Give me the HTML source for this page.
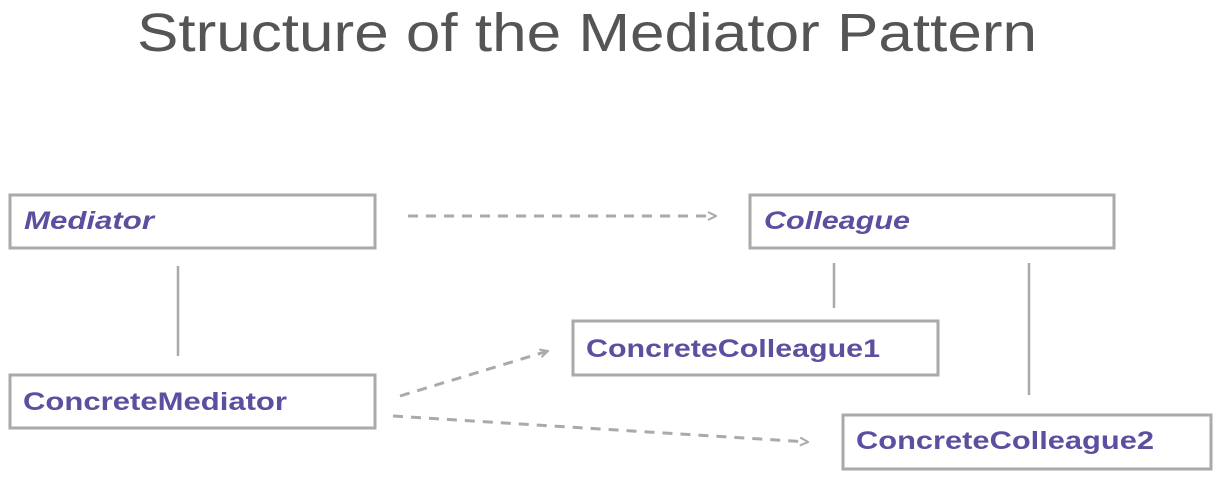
<!DOCTYPE html>
<html><head><style>
html,body{margin:0;padding:0;background:#fff;}
svg{display:block;}
</style></head><body>
<svg width="1222" height="481" viewBox="0 0 1222 481" xmlns="http://www.w3.org/2000/svg">
<defs>
<marker id="ah" markerWidth="10" markerHeight="10" refX="9" refY="5" orient="auto" markerUnits="userSpaceOnUse">
<path d="M1,1 L9,5 L1,9" fill="none" stroke="#aaa" stroke-width="2"/>
</marker>
</defs>
<text x="137" y="51" font-family="Liberation Sans, sans-serif" font-size="54" fill="#555" font-weight="300" textLength="900" lengthAdjust="spacingAndGlyphs">Structure of the Mediator Pattern</text>
<g fill="#fff" stroke="#aaa" stroke-width="3">
<rect x="10" y="195" width="365" height="53"/>
<rect x="10" y="375" width="365" height="53"/>
<rect x="750" y="195" width="364" height="53"/>
<rect x="573" y="321" width="365" height="54"/>
<rect x="843" y="415" width="368" height="54"/>
</g>
<g stroke="#aaa" stroke-width="2.5">
<line x1="178" y1="266" x2="178" y2="356"/>
<line x1="834" y1="263" x2="834" y2="308"/>
<line x1="1029" y1="263" x2="1029" y2="395"/>
</g>
<g stroke="#aaa" stroke-width="3" stroke-dasharray="10,8" fill="none">
<line x1="408" y1="216" x2="716" y2="216" marker-end="url(#ah)"/>
<line x1="400" y1="396" x2="548" y2="351" marker-end="url(#ah)"/>
<line x1="393" y1="416" x2="808" y2="442" marker-end="url(#ah)"/>
</g>
<g font-family="Liberation Sans, sans-serif" font-size="25" font-weight="bold" fill="#5b4fa0">
<text x="24" y="229" font-style="italic" textLength="130" lengthAdjust="spacingAndGlyphs">Mediator</text>
<text x="23" y="410" textLength="264" lengthAdjust="spacingAndGlyphs">ConcreteMediator</text>
<text x="764" y="229" font-style="italic" textLength="146" lengthAdjust="spacingAndGlyphs">Colleague</text>
<text x="586" y="357" textLength="294" lengthAdjust="spacingAndGlyphs">ConcreteColleague1</text>
<text x="856" y="449" textLength="298" lengthAdjust="spacingAndGlyphs">ConcreteColleague2</text>
</g>
</svg>
</body></html>
